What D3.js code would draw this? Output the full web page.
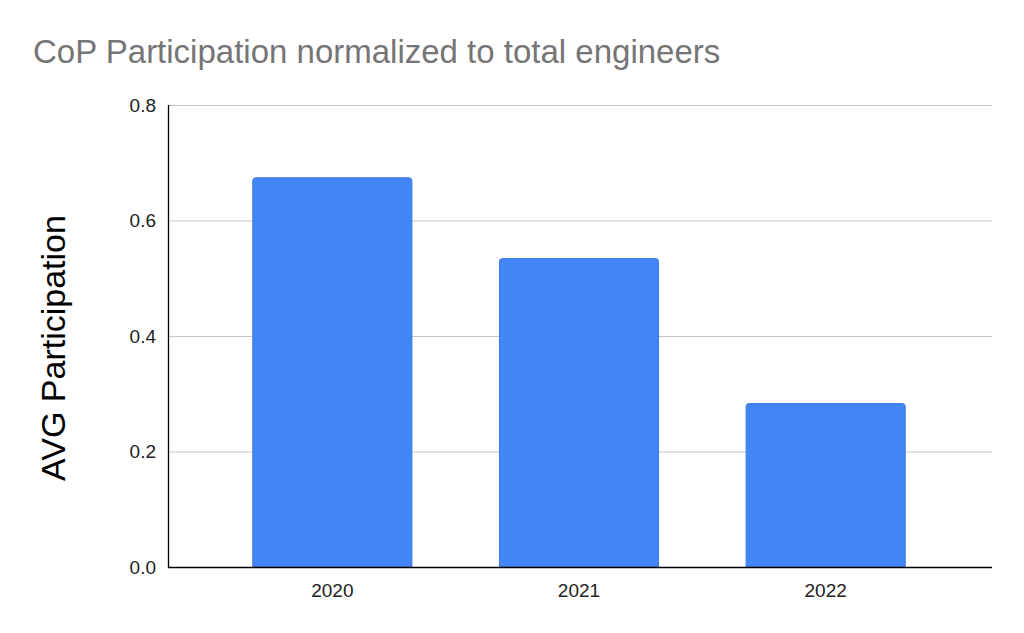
<!DOCTYPE html>
<html><head><meta charset="utf-8">
<script src="https://cdn.jsdelivr.net/npm/d3@7"></script>
<style>body{margin:0;background:#fff}svg{display:block}</style>
</head><body>
<svg id="c" width="1024" height="633"></svg>
<script>
const categories = ["2020", "2021", "2022"];
const values = [0.674, 0.534, 0.283];
const yTicks = [0, 0.2, 0.4, 0.6, 0.8];
const title = "CoP Participation normalized to total engineers";
const yLabel = "AVG Participation";

(function () {
const svg = d3.select("#c");
const font = "'Liberation Sans', Arial, sans-serif";
const pL = 168, pR = 992, pT = 105, pB = 567;

const y = d3.scaleLinear().domain([0, 0.8]).range([pB, pT]);
const x = d3.scaleBand().domain(categories).range([209, 949]).paddingInner(0.355).paddingOuter(0.1775);

svg.append("rect").attr("width", 1024).attr("height", 633).attr("fill", "#fff");

// gridlines
svg.append("g").selectAll("line").data(yTicks.filter(d => d > 0)).join("line")
  .attr("x1", pL).attr("x2", pR).attr("y1", d => y(d) + 0.5).attr("y2", d => y(d) + 0.5)
  .attr("stroke", "#c6c6c6").attr("stroke-width", 1);

// y tick labels
svg.append("g").selectAll("text").data(yTicks).join("text")
  .attr("x", 156).attr("y", d => y(d)).attr("dy", "0.36em")
  .attr("text-anchor", "end").attr("font-family", font).attr("font-size", 19).attr("fill", "#222")
  .text(d => d3.format(".1f")(d));

// bars with rounded top corners
const r = 3;
svg.append("g").selectAll("path").data(categories).join("path")
  .attr("d", (c, i) => {
    const x0 = x(c), w = x.bandwidth(), y0 = y(values[i]), yb = y(0);
    return `M${x0},${yb}V${y0 + r}Q${x0},${y0} ${x0 + r},${y0}H${x0 + w - r}Q${x0 + w},${y0} ${x0 + w},${y0 + r}V${yb}Z`;
  })
  .attr("fill", "#4285f4").attr("stroke", "#3b78e7").attr("stroke-width", 1);

// axes lines
svg.append("line").attr("x1", pL + 0.5).attr("x2", pL + 0.5).attr("y1", pT).attr("y2", pB + 1)
  .attr("stroke", "#000").attr("stroke-width", 1.3);
svg.append("line").attr("x1", pL).attr("x2", pR).attr("y1", pB + 0.5).attr("y2", pB + 0.5)
  .attr("stroke", "#000").attr("stroke-width", 1.3);

// x labels
svg.append("g").selectAll("text").data(categories).join("text")
  .attr("x", c => x(c) + x.bandwidth() / 2).attr("y", 597)
  .attr("text-anchor", "middle").attr("font-family", font).attr("font-size", 19).attr("fill", "#222")
  .text(c => c);

// title
svg.append("text").attr("x", 33).attr("y", 63).attr("font-family", font).attr("font-size", 33)
  .attr("fill", "#757575").text(title);

// y label
svg.append("text").attr("transform", "translate(65,348) rotate(-90)").attr("text-anchor", "middle")
  .attr("font-family", font).attr("font-size", 34).attr("fill", "#000").text(yLabel);
})();
</script>
</body></html>
